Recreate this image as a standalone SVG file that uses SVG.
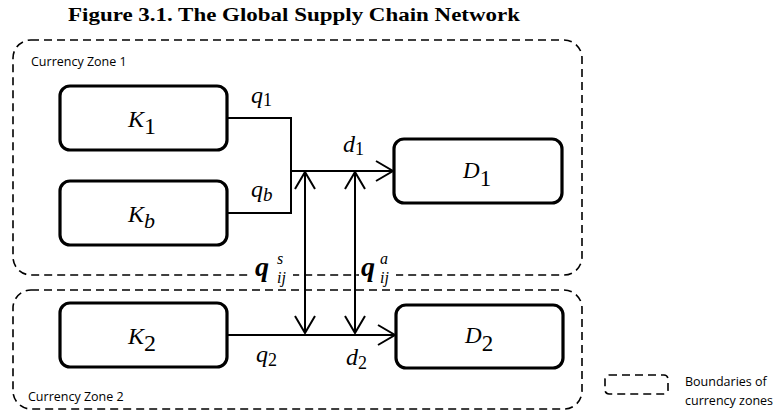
<svg xmlns="http://www.w3.org/2000/svg" width="784" height="412" viewBox="0 0 784 412">
<style>
.zone{fill:none;stroke:#000;stroke-width:1.6;stroke-dasharray:8 5}
.box{fill:#fff;stroke:#000;stroke-width:3.2}
.ln{fill:none;stroke:#000;stroke-width:2}
.lbl{font-family:"Open Sans","Liberation Sans",sans-serif;font-size:12.5px;fill:#000}
.m{font-family:"Liberation Serif",serif;font-style:italic;fill:#000}
.up{font-style:normal}
.title{font-family:"Liberation Serif",serif;font-weight:bold;font-size:18px;fill:#000}
</style>
<defs>
<marker id="ah" markerUnits="userSpaceOnUse" viewBox="-20 -12 22 24" refX="0" refY="0" markerWidth="22" markerHeight="24" orient="auto-start-reverse">
<path d="M-17,-10 L0,0 L-17,10" fill="none" stroke="#000" stroke-width="2"/>
</marker>
</defs>
<text class="title" x="68" y="21" textLength="452" lengthAdjust="spacingAndGlyphs">Figure 3.1. The Global Supply Chain Network</text>

<g id="zone1">
<rect class="zone" x="13" y="40" width="569" height="235" rx="18"/>
<text class="lbl" x="31" y="66">Currency Zone 1</text>
</g>
<g id="zone2">
<rect class="zone" x="13" y="290" width="569" height="119" rx="18"/>
<text class="lbl" x="28" y="401">Currency Zone 2</text>
</g>

<g id="connectors">
<polyline class="ln" points="227,118 291,118 291,213 227,213"/>
<line class="ln" x1="291" y1="171" x2="393" y2="171" marker-end="url(#ah)"/>
<line class="ln" x1="228" y1="335" x2="395" y2="335" marker-end="url(#ah)"/>
<line class="ln" x1="305" y1="172" x2="305" y2="333" marker-start="url(#ah)" marker-end="url(#ah)"/>
<line class="ln" x1="355" y1="172" x2="355" y2="333" marker-start="url(#ah)" marker-end="url(#ah)"/>
<text class="m" x="251" y="103" font-size="24">q<tspan class="up" font-size="18" dy="3">1</tspan></text>
<text class="m" x="251" y="197" font-size="24">q<tspan font-size="19" dy="4">b</tspan></text>
<text class="m" x="343" y="152" font-size="24">d<tspan class="up" font-size="18" dy="3">1</tspan></text>
<text class="m" x="256" y="362" font-size="24">q<tspan class="up" font-size="18" dy="4">2</tspan></text>
<text class="m" x="346" y="365" font-size="24">d<tspan class="up" font-size="18" dy="4">2</tspan></text>
<rect x="252" y="256" width="41" height="29" fill="#fff"/>
<rect x="359" y="256" width="37" height="29" fill="#fff"/>
<line class="ln" x1="305" y1="256" x2="305" y2="285"/>
<line class="ln" x1="355" y1="256" x2="355" y2="285"/>
<text class="m" x="255" y="276" font-size="28" font-weight="bold">q</text>
<text class="m" x="277" y="264" font-size="16">s</text>
<text class="m" x="277" y="283" font-size="16">ij</text>
<text class="m" x="361" y="276" font-size="28" font-weight="bold">q</text>
<text class="m" x="380" y="264" font-size="16">a</text>
<text class="m" x="380" y="283" font-size="16">ij</text>
</g>

<g id="K1">
<rect class="box" x="60" y="86" width="167" height="64" rx="10"/>
<text class="m" x="128" y="127" font-size="24">K<tspan class="up" font-size="24" dy="7">1</tspan></text>
</g>
<g id="Kb">
<rect class="box" x="60" y="181" width="167" height="64" rx="10"/>
<text class="m" x="128" y="222" font-size="24">K<tspan font-size="22" dy="6">b</tspan></text>
</g>
<g id="D1">
<rect class="box" x="394" y="139" width="168" height="64" rx="10"/>
<text class="m" x="463" y="178" font-size="23">D<tspan class="up" font-size="23" dy="8">1</tspan></text>
</g>
<g id="K2">
<rect class="box" x="60" y="303" width="167" height="64" rx="10"/>
<text class="m" x="128" y="344" font-size="24">K<tspan class="up" font-size="24" dy="7">2</tspan></text>
</g>
<g id="D2">
<rect class="box" x="396" y="305" width="167" height="63" rx="10"/>
<text class="m" x="465" y="343" font-size="23">D<tspan class="up" font-size="23" dy="8">2</tspan></text>
</g>

<g id="legend">
<rect class="zone" x="605" y="375" width="63" height="19" rx="4" stroke-dasharray="7 4"/>
<text class="lbl" x="685" y="386" font-size="12">Boundaries of</text>
<text class="lbl" x="685" y="405" font-size="12">currency zones</text>
</g>
</svg>
